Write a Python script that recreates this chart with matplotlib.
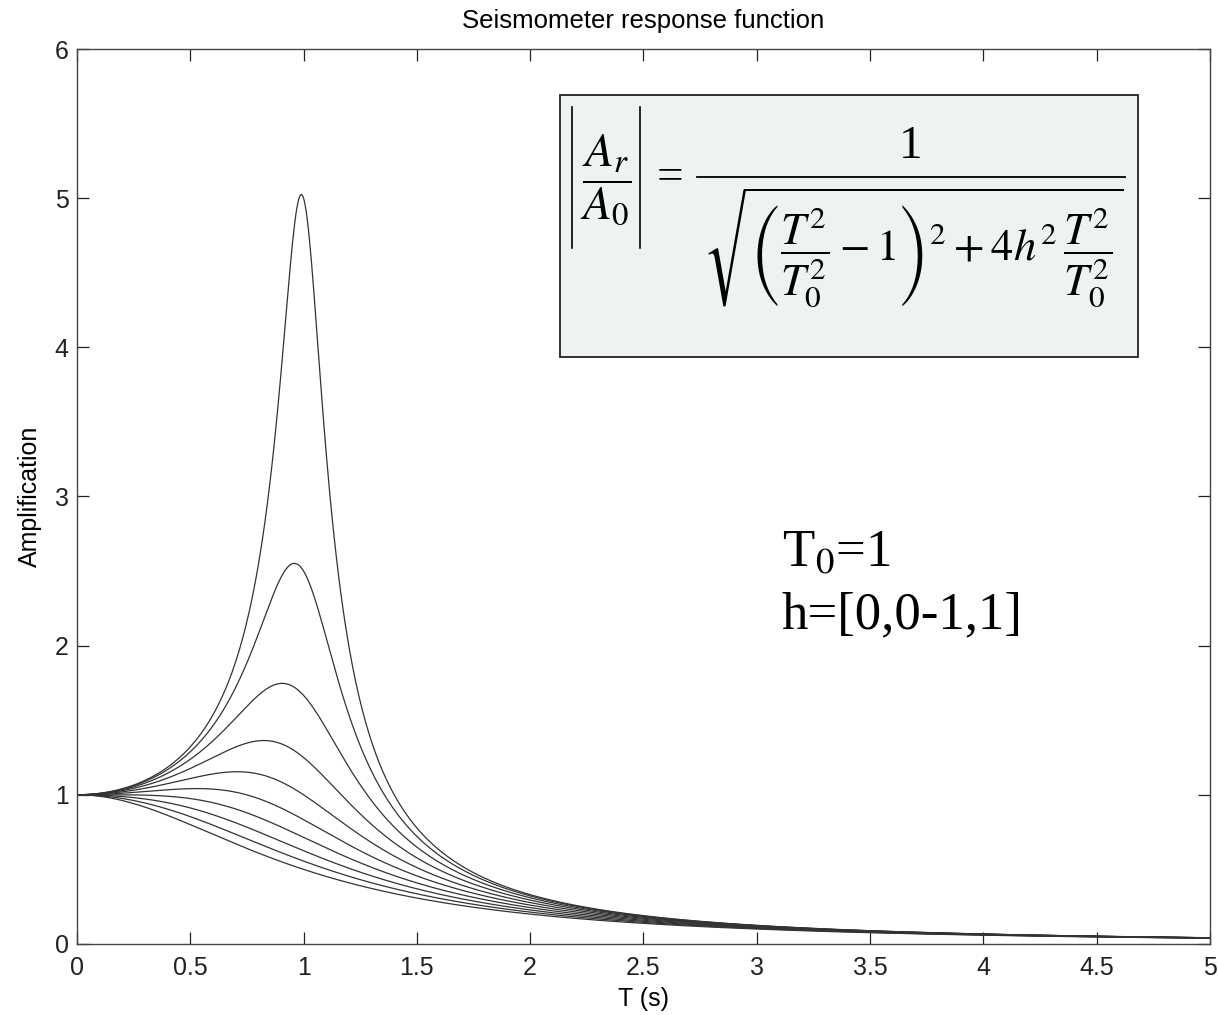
import numpy as np
import matplotlib
matplotlib.use("Agg")
import matplotlib.pyplot as plt
from matplotlib.patches import Rectangle
from matplotlib.lines import Line2D

# Data: natural period and damping values of the plotted curves
T0 = 1.0
damping = [0.1, 0.2, 0.3, 0.4, 0.5, 0.6, 0.7, 0.8, 0.9, 1.0]
period = np.linspace(0.0, 5.0, 1001)
xticks = [0, 0.5, 1, 1.5, 2, 2.5, 3, 3.5, 4, 4.5, 5]
xticklabels = ["0", "0.5", "1", "1.5", "2", "2.5", "3", "3.5", "4", "4.5", "5"]
yticks = [0, 1, 2, 3, 4, 5, 6]

plt.rcParams['font.family'] = ['Liberation Sans', 'DejaVu Sans']
plt.rcParams['mathtext.fontset'] = 'stix'

fig = plt.figure(figsize=(12.18, 10.15), dpi=100)
ax = fig.add_axes([0.0632, 0.070, 0.9302, 0.8817])

for h in damping:
    r2 = (period / T0) ** 2
    amp = 1.0 / np.sqrt((r2 - 1.0) ** 2 + 4 * h ** 2 * r2)
    ax.plot(period, amp, color='#333333', lw=0.9)

ax.set_xlim(0, 5)
ax.set_ylim(0, 6)
ax.set_xticks(xticks)
ax.set_xticklabels(xticklabels)
ax.set_yticks(yticks)
ax.tick_params(direction='in', length=8.5, width=0.9, labelsize=18,
               top=True, right=True, colors='#222222')
ax.tick_params(axis='x', pad=9)
ax.tick_params(axis='y', pad=6)
for s in ax.spines.values():
    s.set_linewidth(1.0)
    s.set_color('#444444')

ax.set_title("Seismometer response function", fontsize=18.5, pad=15)
ax.set_xlabel("T (s)", fontsize=18, labelpad=5)
ax.set_ylabel("Amplification", fontsize=18, labelpad=9)

# Equation box (pixel layout helpers)
W, H = 1218.0, 1015.0


def fx(x):
    return x / W


def fy(y):
    return 1 - y / H


rect = Rectangle((fx(560), fy(357)), (1138 - 560) / W, (357 - 95) / H,
                 transform=fig.transFigure, facecolor='#eef3ef',
                 edgecolor='#222222', lw=1.3, zorder=5)
fig.patches.append(rect)

# |A_r / A_0|
fig.text(fx(606), fy(180), r'$\dfrac{A_r}{A_0}$', fontsize=34,
         ha='center', va='center', zorder=6)
for xb in (572, 640):
    fig.add_artist(Line2D([fx(xb), fx(xb)], [fy(107), fy(248)],
                          transform=fig.transFigure, color='black',
                          lw=1.2, zorder=6))
fig.text(fx(670), fy(178), '=', fontsize=34, family='Liberation Serif',
         ha='center', va='center', zorder=6)
# numerator
fig.text(fx(911), fy(158), '1', fontsize=34, family='Liberation Serif',
         ha='center', va='baseline', zorder=6)
fig.add_artist(Line2D([fx(697), fx(1125)], [fy(177), fy(177)],
                      transform=fig.transFigure, color='black',
                      lw=1.3, zorder=6))
# denominator
den = (r'$\sqrt{\left(\dfrac{T^2}{T_0^2}-1\right)^2 + 4h^2\,'
       r'\dfrac{T^2}{T_0^2}}$')
fig.text(fx(913), fy(186), den, fontsize=32,
         ha='center', va='top', zorder=6)

ax.text(0.622, 0.422, r'T$_0$=1', transform=ax.transAxes, fontsize=38,
        family='Liberation Serif', va='baseline')
ax.text(0.622, 0.353, 'h=[0,0-1,1]', transform=ax.transAxes, fontsize=38,
        family='Liberation Serif', va='baseline')

fig.savefig("out.png", dpi=100)
